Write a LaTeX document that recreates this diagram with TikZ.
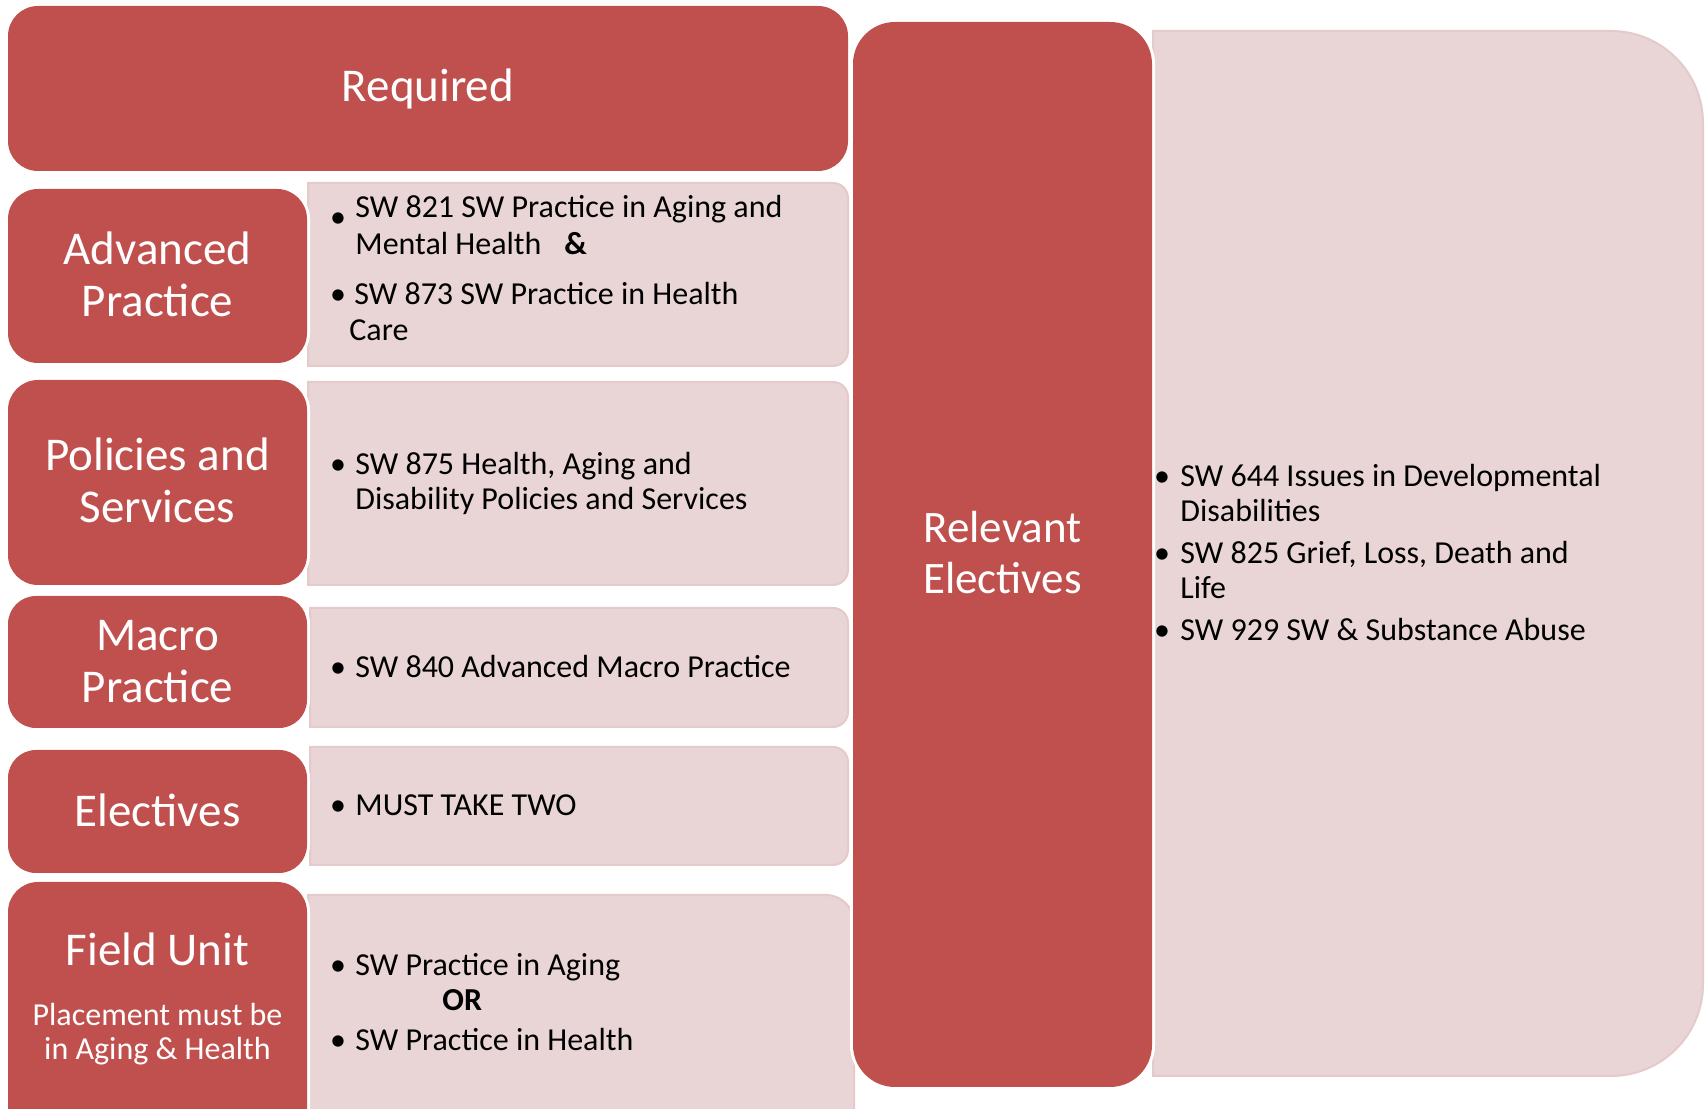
\documentclass[tikz,border=0pt]{standalone}
\usepackage{fontspec}
\setmainfont{Carlito}
\definecolor{redbox}{HTML}{C0504D}
\definecolor{pinkfill}{HTML}{E9D5D5}
\definecolor{pinkline}{HTML}{E4CACA}
\newcommand\redbox[6]{% name, x1, Y1, x2, Y2, r
  \fill[white,rounded corners={(#6+3)*0.5pt}] ({#2-3},{#3-3}) rectangle ({#4+3},{#5+3});
  \fill[redbox,rounded corners={#6*0.5pt}] (#2,#3) rectangle (#4,#5);
  \coordinate (#1) at ({(#2+#4)/2},{(#3+#5)/2});
}
\newcommand\pinkbox[6]{% name, x1, Y1, x2, Y2, r
  \draw[pinkfill,fill=pinkfill,draw=pinkline,line width=1pt]
    (#2,#3) -- ({#4-#6},#3) arc[start angle=-90,end angle=0,radius={#6*0.5pt}]
    -- (#4,{#5-#6}) arc[start angle=0,end angle=90,radius={#6*0.5pt}]
    -- (#2,#5) -- cycle;
  \coordinate (#1) at ({(#2+#4)/2},{(#3+#5)/2});
}
\tikzset{
  lab/.style={anchor=base,inner sep=0pt,text=white,font=\fontsize{23.5pt}{26pt}\selectfont},
  rel/.style={anchor=base,inner sep=0pt,text=white,font=\fontsize{22.5pt}{25pt}\selectfont},
  sublab/.style={anchor=base,inner sep=0pt,text=white,font=\fontsize{16pt}{17pt}\selectfont},
  txt/.style={anchor=base west,inner sep=0pt,text=black,font=\fontsize{16pt}{18pt}\selectfont},
  bul/.style={anchor=base,inner sep=0pt,text=black,font=\fontsize{16pt}{18pt}\selectfont},
}
\begin{document}
\begin{tikzpicture}[x=0.5pt,y=0.5pt]
\useasboundingbox (0,0) rectangle (1705,1109);
\clip (0,0) rectangle (1705,1109);
% pink content boxes
\pinkbox{c1}{308}{743}{848}{926}{15}
\pinkbox{c2}{308}{524}{848}{727}{15}
\pinkbox{c3}{310}{382}{848}{501}{15}
\pinkbox{c4}{310}{244}{848}{362}{15}
\pinkbox{c5}{308}{-40}{854}{214}{28}
\pinkbox{c6}{1153}{33}{1703}{1078}{92}
% red boxes
\redbox{r1}{8}{938}{848}{1103}{30}
\redbox{r2}{8}{746}{307}{920}{30}
\redbox{r3}{8}{524}{307}{729}{30}
\redbox{r4}{8}{381}{307}{513}{28}
\redbox{r5}{8}{236}{307}{359}{28}
\redbox{r6}{8}{-40}{307}{227}{30}
\redbox{r7}{853}{22}{1152}{1087}{42}
% red labels
\node[lab] (treq) at (428,1007) {Required};
\node[lab] (tadv1) at (157.5,844) {Advanced};
\node[lab] (tadv2) at (157.5,792) {Practice};
\node[lab] (tpol1) at (157.5,638) {Policies and};
\node[lab] (tpol2) at (157.5,586) {Services};
\node[lab] (tmac1) at (157.5,458) {Macro};
\node[lab] (tmac2) at (157.5,406) {Practice};
\node[lab] (tele) at (157.5,282) {Electives};
\node[lab] (tfld) at (157.5,143) {Field Unit};
\node[sublab] (tpl1) at (157.5,83) {Placement must be};
\node[sublab] (tpl2) at (157.5,49) {in Aging \& Health};
\node[rel] (trel1) at (1002.5,566) {Relevant};
\node[rel] (trel2) at (1002.5,515) {Electives};
% content 1
\node[bul] (b11) at (338,881) {•};
\node[txt] (t11) at (355,891) {SW 821 SW Practice in Aging and};
\node[txt] (t12) at (355,854) {Mental Health};
\node[txt,font=\fontsize{16pt}{18pt}\selectfont\bfseries] (t12b) at (564,854) {\&};
\node[bul] (b12) at (338,804) {•};
\node[txt] (t13) at (354,804) {SW 873 SW Practice in Health};
\node[txt] (t14) at (349,768) {Care};
% content 2
\node[bul] (b21) at (338,634) {•};
\node[txt] (t21) at (355,634) {SW 875 Health, Aging and};
\node[txt] (t22) at (355,599) {Disability Policies and Services};
% content 3
\node[bul] (b31) at (338,431) {•};
\node[txt] (t31) at (355,431) {SW 840 Advanced Macro Practice};
% content 4
\node[bul] (b41) at (338,293) {•};
\node[txt] (t41) at (355,293) {MUST TAKE TWO};
% content 5
\node[bul] (b51) at (338,133) {•};
\node[txt] (t51) at (355,133) {SW Practice in Aging};
\node[txt,font=\fontsize{16pt}{18pt}\selectfont\bfseries] (t52) at (442,98) {OR};
\node[bul] (b53) at (338,58) {•};
\node[txt] (t53) at (355,58) {SW Practice in Health};
% right list
\node[bul] (b61) at (1162,622) {•};
\node[txt] (t61) at (1180,622) {SW 644 Issues in Developmental};
\node[txt] (t62) at (1180,587) {Disabilities};
\node[bul] (b63) at (1162,545) {•};
\node[txt] (t63) at (1180,545) {SW 825 Grief, Loss, Death and};
\node[txt] (t64) at (1180,510) {Life};
\node[bul] (b65) at (1162,468) {•};
\node[txt] (t65) at (1180,468) {SW 929 SW \& Substance Abuse};
\end{tikzpicture}
\end{document}
